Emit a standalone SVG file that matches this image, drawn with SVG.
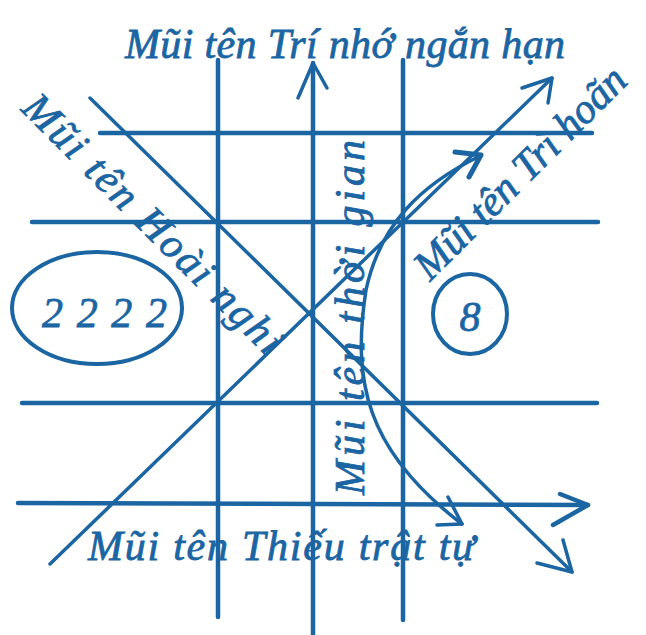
<svg xmlns="http://www.w3.org/2000/svg" width="646" height="635" viewBox="0 0 646 635">
<style>
.ln{stroke:#1b65a2;fill:none;stroke-linecap:round;stroke-linejoin:round}
.g{stroke-width:4.5}
.d{stroke-width:3.5}
.t{font-family:"Liberation Serif","DejaVu Serif",serif;font-style:italic;fill:#1b65a2;stroke:#1b65a2;stroke-width:0.8;font-size:42px}
</style>
<rect width="646" height="635" fill="#ffffff"/>
<g id="connectors" class="ln">
  <line class="g" x1="218" y1="60" x2="218" y2="617"/>
  <line class="g" x1="313" y1="63" x2="313" y2="635"/>
  <polyline class="d" points="298,98 313,63 327,88"/>
  <line class="g" x1="403" y1="60" x2="403" y2="620"/>
  <line class="g" x1="100" y1="133" x2="592" y2="133"/>
  <line class="g" x1="32" y1="222" x2="598" y2="222"/>
  <line class="g" x1="22" y1="403" x2="597" y2="403"/>
  <line class="g" x1="18" y1="503" x2="588" y2="505"/>
  <polyline class="g" points="560,494 588,505 553,525"/>
  <line class="d" x1="50" y1="564" x2="552" y2="78"/>
  <polyline class="d" points="522,88 552,78 548,103"/>
  <line class="d" x1="90" y1="98" x2="572" y2="572"/>
  <polyline class="d" points="563,540 572,572 537,563"/>
  <path class="d" d="M480,156 C420,185 380,225 366,290 C352,380 365,450 462,524"/>
  <polyline class="ln" stroke-width="5" points="455,152 481,155 469,177"/>
  <polyline class="d" points="448,497 462,524 437,525"/>
</g>
<g id="label-short-memory">
  <text class="t" x="125" y="58" textLength="440" lengthAdjust="spacing">Mũi tên Trí nhớ ngắn hạn</text>
</g>
<g id="label-doubt">
  <text class="t" transform="translate(20,110) rotate(45)" textLength="350" lengthAdjust="spacing">Mũi tên Hoài nghi</text>
</g>
<g id="label-time">
  <text class="t" font-size="40" transform="translate(364,495) rotate(-90)" textLength="355" lengthAdjust="spacing">Mũi tên thời gian</text>
</g>
<g id="label-delay">
  <text class="t" font-size="40" transform="translate(430,282) rotate(-45)" textLength="282" lengthAdjust="spacing">Mũi tên Trì hoãn</text>
</g>
<g id="label-disorder">
  <text class="t" x="88" y="560" textLength="387" lengthAdjust="spacing">Mũi tên Thiếu trật tự</text>
</g>
<g id="node-2222">
  <ellipse class="ln" stroke-width="4" cx="97" cy="308" rx="85" ry="56"/>
  <text class="t" font-size="50" x="42" y="327" textLength="125" lengthAdjust="spacing">2222</text>
</g>
<g id="node-8">
  <ellipse class="ln" stroke-width="4" cx="470" cy="314" rx="37" ry="40"/>
  <text class="t" font-size="50" x="470" y="331" text-anchor="middle">8</text>
</g>
</svg>
